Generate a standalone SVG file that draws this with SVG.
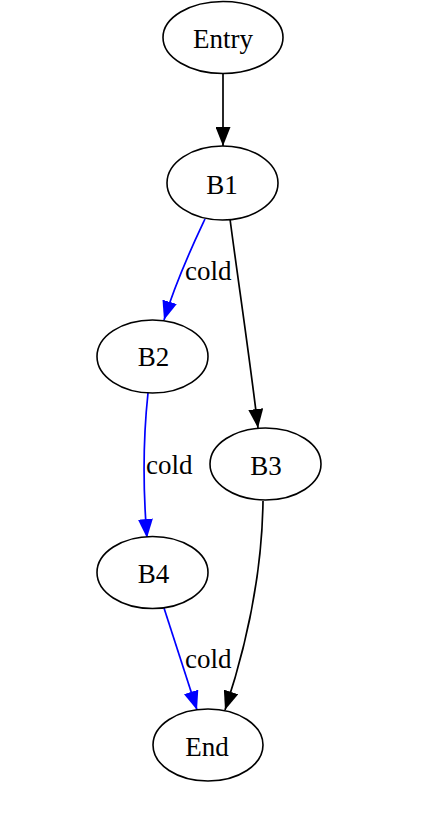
<svg xmlns="http://www.w3.org/2000/svg" width="434" height="820" viewBox="0 0 434 820">
<style>
.node ellipse{fill:#fff;stroke:#000;stroke-width:1.6}
text{font-family:"Liberation Serif","Times New Roman",serif;font-size:27px;fill:#000}
.node text{text-anchor:middle}
.e{fill:none;stroke-width:1.7}
.k{stroke:#000}
.b{stroke:#0000ff}
</style>
<defs>
<marker id="ak" markerUnits="userSpaceOnUse" markerWidth="19" markerHeight="15" refX="19" refY="7.5" orient="auto"><path d="M0,0 L19,7.5 L0,15 z" fill="#000"/></marker>
<marker id="ab" markerUnits="userSpaceOnUse" markerWidth="19" markerHeight="15" refX="19" refY="7.5" orient="auto"><path d="M0,0 L19,7.5 L0,15 z" fill="#0000ff"/></marker>
</defs>
<rect width="434" height="820" fill="#fff"/>
<g id="edges">
<path class="e k" d="M223,73 L223,146" marker-end="url(#ak)"/>
<path class="e b" d="M205,219 C197,236 178,275 164,320" marker-end="url(#ab)"/>
<path class="e k" d="M230,219 C238,280 250,360 258,428" marker-end="url(#ak)"/>
<path class="e b" d="M148,393 C143,440 143,490 147,538" marker-end="url(#ab)"/>
<path class="e k" d="M263,501 C262,580 245,650 225,710" marker-end="url(#ak)"/>
<path class="e b" d="M164,608 L197,710" marker-end="url(#ab)"/>
<text x="185" y="280">cold</text>
<text x="146" y="474">cold</text>
<text x="185" y="668">cold</text>
</g>
<g id="Entry" class="node"><ellipse cx="223" cy="37.5" rx="60" ry="36"/><text x="223" y="48">Entry</text></g>
<g id="B1" class="node"><ellipse cx="222.5" cy="183" rx="55.5" ry="37"/><text x="222" y="194">B1</text></g>
<g id="B2" class="node"><ellipse cx="152.5" cy="356.5" rx="55.5" ry="36.5"/><text x="153.5" y="366">B2</text></g>
<g id="B3" class="node"><ellipse cx="265.5" cy="464" rx="55.5" ry="36"/><text x="266" y="475">B3</text></g>
<g id="B4" class="node"><ellipse cx="152.5" cy="572.5" rx="55.5" ry="36"/><text x="153.5" y="583">B4</text></g>
<g id="End" class="node"><ellipse cx="208" cy="745" rx="55" ry="36"/><text x="207" y="756">End</text></g>
</svg>
